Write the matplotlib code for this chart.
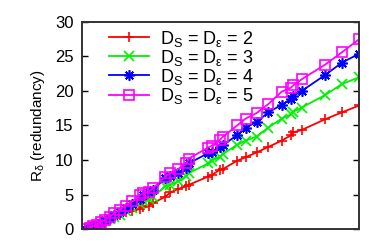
import numpy as np
import matplotlib
matplotlib.use('Agg')
from matplotlib import pyplot as plt

plt.rcParams['font.family'] = ['Liberation Sans', 'DejaVu Sans']
plt.rcParams['mathtext.fontset'] = 'custom'
plt.rcParams['mathtext.rm'] = 'Liberation Sans'
plt.rcParams['mathtext.it'] = 'Liberation Sans'

# x positions (arbitrary units, no tick labels on x)
x = [0, 1.5, 2.9, 4.3, 5.7, 7.3, 8.8, 10.6, 12.5, 14.7, 17.1, 19.8, 21.2, 23.1, 24.7,
     29.2, 31.0, 33.8, 36.9, 37.7, 44.8, 46.3, 49.1, 50.3, 55.4, 58.5, 62.5, 66.8,
     71.7, 75.1, 75.9, 79.0, 87.5, 93.7, 100]

r_d2 = [0, 0.25, 0.5, 0.7, 0.95, 1.2, 1.5, 1.8, 2.1, 2.4, 2.6, 2.9, 3.2, 3.4, 3.75,
        4.7, 5.3, 5.8, 6.2, 6.4, 7.6, 7.85, 8.6, 8.7, 9.9, 10.4, 11.1, 11.9,
        12.8, 13.6, 14.0, 14.35, 15.9, 16.9, 17.9]
r_d3 = [0, 0.2, 0.35, 0.5, 0.8, 1.1, 1.4, 1.7, 2.1, 2.6, 3.1, 3.6, 4.0, 4.3, 4.7,
        6.2, 6.4, 6.9, 7.7, 8.1, 9.5, 9.9, 10.5, 10.9, 12.2, 12.8, 13.4, 14.7,
        16.0, 16.6, 17.0, 17.6, 19.4, 21.0, 22.0]
r_d4 = [0, 0.2, 0.4, 0.6, 0.9, 1.25, 1.6, 2.0, 2.5, 3.0, 3.6, 4.3, 5.0, 5.3, 5.7,
        7.4, 7.7, 8.1, 8.8, 9.5, 11.0, 11.2, 11.9, 12.2, 13.6, 14.7, 15.5, 16.9,
        18.0, 18.8, 19.3, 20.0, 22.3, 24.1, 25.4]
r_d5 = [0, 0.2, 0.4, 0.6, 1.0, 1.35, 1.8, 2.3, 2.8, 3.4, 4.0, 4.9, 5.2, 5.4, 5.9,
        7.6, 8.1, 8.7, 9.5, 10.2, 11.8, 12.1, 12.9, 13.4, 15.0, 16.0, 16.8, 18.1,
        19.9, 20.5, 20.8, 21.7, 23.8, 25.6, 27.5]

dims = [2, 3, 4, 5]
series = [r_d2, r_d3, r_d4, r_d5]
colors = ['#ff0000', '#00f000', '#0000ff', '#ff00ff']
markers = ['+', 'x', (8, 2, 0), 's']

fig = plt.figure(figsize=(3.9, 2.52), dpi=100)
ax = fig.add_axes([0.21, 0.091, 0.711, 0.822])

for d, y, c, m in zip(dims, series, colors, markers):
    kw = dict(color=c, marker=m, lw=1.3, ms=7.5, mew=1.2,
              label=r'D$_\mathrm{S}$ = D$_\mathrm{ε}$ = %d' % d)
    if m == 's':
        kw.update(mfc='none', ms=7.5)
    ax.plot(x, y, **kw)

ax.set_xlim(-1.3, 100)
ax.set_ylim(0, 30)
ax.set_yticks([0, 5, 10, 15, 20, 25, 30])
ax.set_xticks([])
ax.tick_params(axis='y', direction='in', left=True, right=True, labelsize=12,
               length=4, width=1, pad=6)
for s in ax.spines.values():
    s.set_color('#333333')
    s.set_linewidth(1.4)
ax.set_ylabel(r'R$_\mathrm{δ}$ (redundancy)', fontsize=11, labelpad=6)

ax.legend(loc='upper left', frameon=False, fontsize=13, handlelength=2.2,
          handletextpad=0.6, labelspacing=-0.05, borderaxespad=0.2,
          bbox_to_anchor=(0.06, 1.02))

fig.savefig('out.png', dpi=100)
